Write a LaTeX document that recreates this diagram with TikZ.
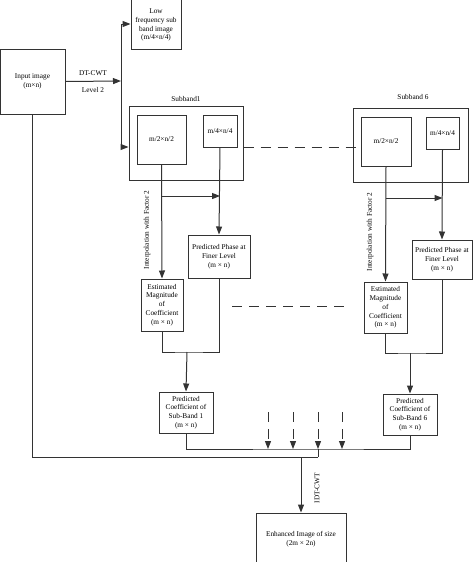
\documentclass[tikz,border=0pt]{standalone}
\usepackage{fontspec}
\setmainfont{Liberation Serif}
\usetikzlibrary{arrows.meta}
\begin{document}
\begin{tikzpicture}[x=1pt,y=-1pt,
  ln/.style={draw=black!80,line width=1pt},
  arr/.style={ln,-{Triangle[length=8pt,width=6pt]}},
  box/.style={ln,rectangle,inner sep=1pt,align=center,font=\fontsize{7.3}{8.8}\selectfont},
  lbl/.style={inner sep=0pt,align=center,font=\fontsize{7.3}{8.8}\selectfont},
  dsh/.style={ln,dash pattern=on 10pt off 7pt}]
\useasboundingbox (0,0) rectangle (474,562);
% nodes
\node[box,minimum width=65,minimum height=65] (input) at (32.5,81.5) {Input image\\(m×n)};
\node[box,minimum width=50,minimum height=56] (low) at (156,21) {};
\node[lbl] (lowt) at (156,25) {Low\\frequency sub\\band image\\(m/4×n/4)};
\node[box,minimum width=114,minimum height=74] (sb1) at (186,143) {};
\node[box,minimum width=49,minimum height=49] (sb1a) at (161.5,139.5) {m/2×n/2};
\node[box,minimum width=34,minimum height=32] (sb1b) at (220,131) {m/4×n/4};
\node[box,minimum width=115,minimum height=74] (sb6) at (410.5,145) {};
\node[box,minimum width=50,minimum height=49] (sb6a) at (386,141.5) {m/2×n/2};
\node[box,minimum width=33,minimum height=32] (sb6b) at (442.5,133) {m/4×n/4};
\node[box,minimum width=62,minimum height=43] (phase1) at (219,256.5) {Predicted Phase at\\Finer Level\\(m × n)};
\node[box,minimum width=42,minimum height=52] (mag1) at (162,305) {Estimated\\Magnitude\\of\\Coefficient\\(m × n)};
\node[box,minimum width=60,minimum height=39] (phase6) at (442,259.5) {Predicted Phase at\\Finer Level\\(m × n)};
\node[box,minimum width=43,minimum height=51] (mag6) at (385.5,307.5) {Estimated\\Magnitude\\of\\Coefficient\\(m × n)};
\node[box,minimum width=54,minimum height=41] (coef1) at (186,412.5) {Predicted\\Coefficient of\\Sub-Band 1\\(m × n)};
\node[box,minimum width=54,minimum height=41] (coef6) at (410,414.5) {Predicted\\Coefficient of\\Sub-Band 6\\(m × n)};
\node[box,minimum width=90,minimum height=52] (enh) at (301,539) {Enhanced Image of size\\(2m × 2n)};
% labels
\node[lbl] (l1) at (93,73) {DT-CWT};
\node[lbl] (l2) at (93,90) {Level 2};
\node[lbl] (l3) at (186,99) {Subband1};
\node[lbl] (l4) at (413,97) {Subband 6};
\node[lbl,rotate=90] (l5) at (147,230) {Interpolation with Factor 2};
\node[lbl,rotate=90] (l6) at (370,232) {Interpolation with Factor 2};
\node[lbl,rotate=90] (l7) at (317,488) {IDT-CWT};
% coordinates
\coordinate (split) at (121,81);
\coordinate (br1) at (162,196);
\coordinate (br6) at (386,198);
\coordinate (j1) at (187,352);
\coordinate (j6) at (410,353);
\coordinate (jb) at (318,449);
\coordinate (jl) at (318,457);
\coordinate (jm) at (301,457);
\coordinate (dA) at (232,306);
\coordinate (dB) at (347,306);
% connectors
\draw[arr] (input.east) -- (split);
\draw[arr] (split) |- (low.west |- 0,24);
\draw[arr] (split) |- (sb1.west |- 0,147);
\draw[arr] (sb1a.south) -- (mag1.north);
\draw[arr] (br1) -- (sb1b.south |- br1);
\draw[arr] (sb1b.south) -- (phase1.north);
\draw[arr] (sb6a.south) -- (mag6.north);
\draw[arr] (br6) -- (sb6b.south |- br6);
\draw[arr] (sb6b.south) -- (phase6.north);
\draw[ln] (mag1.south) |- (j1) -| (phase1.south);
\draw[arr] (j1) -- (coef1.north);
\draw[ln] (mag6.south) |- (j6) -| (phase6.south);
\draw[arr] (j6) -- (coef6.north);
\draw[dsh] (sb1.east |- 0,147) -- (sb6a.west |- 0,147);
\draw[dsh] (dA) -- (dB);
\draw[ln] (coef1.south) |- (jb) -| (coef6.south);
\foreach \xx in {268,293,318,342}{
  \draw[ln,dash pattern=on 10pt off 7pt,-{Triangle[length=8pt,width=6pt]}] (\xx,412) -- (\xx,449);
}
\draw[ln] (jb) -- (jl);
\draw[ln] (input.south) |- (jl);
\draw[arr] (jm) -- (enh.north);
\end{tikzpicture}
\end{document}
